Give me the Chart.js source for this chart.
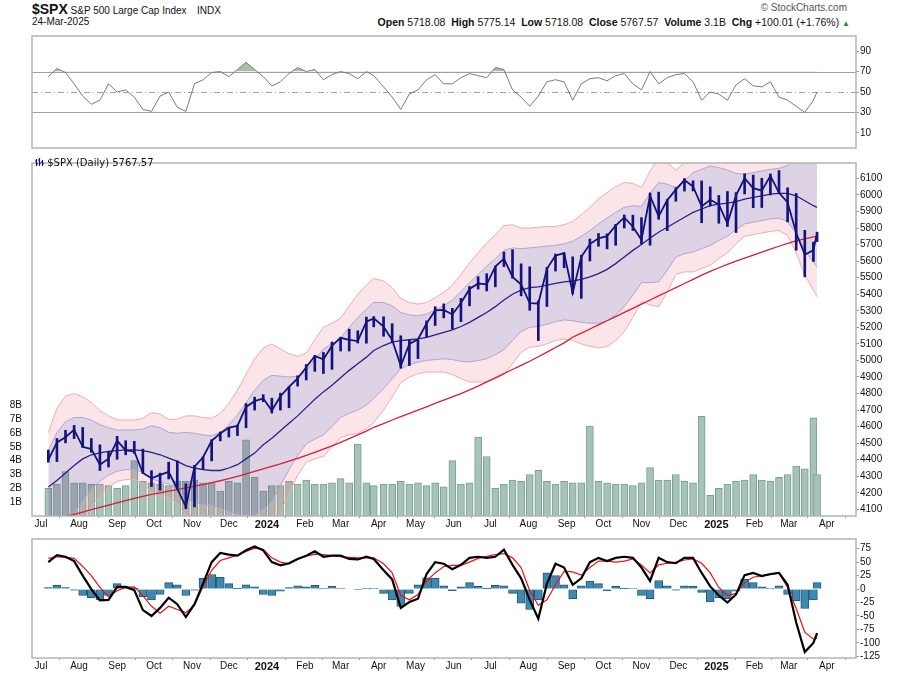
<!DOCTYPE html>
<html>
<head>
<meta charset="utf-8">
<script src="https://cdn.jsdelivr.net/npm/chart.js@4.4.1/dist/chart.umd.min.js"></script>
<style>
  body { margin: 0; background: #fff; width: 900px; height: 673px; position: relative; overflow: hidden;
         font-family: "Liberation Sans", Arial, sans-serif; color: #111; }
  canvas { position: absolute; left: 0; }
  .t { position: absolute; white-space: nowrap; z-index: 5; }
  .t b { font-weight: bold; }
</style>
</head>
<body>
<div class="t" style="left:32px;top:1px;font-size:10px;"><b style="font-size:14px">$SPX</b> S&amp;P 500 Large Cap Index</div>
<div class="t" style="left:197px;top:5px;font-size:10px;">INDX</div>
<div class="t" style="left:32px;top:16px;font-size:10px;">24-Mar-2025</div>
<div class="t" style="right:53px;top:2px;font-size:10px;color:#555;">&copy; StockCharts.com</div>
<div class="t" style="right:50px;top:16px;font-size:10.5px;">
  <b>Open</b> 5718.08&nbsp; <b>High</b> 5775.14&nbsp; <b>Low</b> 5718.08&nbsp; <b>Close</b> 5767.57&nbsp;
  <b>Volume</b> 3.1B&nbsp; <b>Chg</b> +100.01 (+1.76%) <span style="color:#2e8b2e;font-size:8px;">&#9650;</span>
</div>
<div class="t" style="left:35px;top:157px;font:10px 'DejaVu Sans';">
  <svg width="9" height="9" style="vertical-align:-1px"><path d="M1.5 1v7M4.5 0v8M7.5 2v6M0 3h1.5M1.5 6h1.5M3 2h1.5M4.5 5h1.5M6 4h1.5M7.5 6h1.5" stroke="#14127c" stroke-width="1.2" fill="none"/></svg>
  $SPX (Daily) 5767.57
</div>

<canvas id="rsiChart" width="900" height="126" style="top:29px"></canvas>
<canvas id="priceChart" width="900" height="378" style="top:155px"></canvas>
<canvas id="oscChart" width="900" height="141" style="top:532px"></canvas>

<script>
// weekly points
const dates = [
  '2023-07-07','2023-07-14','2023-07-21','2023-07-28','2023-08-04','2023-08-11','2023-08-18','2023-08-25',
  '2023-09-01','2023-09-08','2023-09-15','2023-09-22','2023-09-29','2023-10-06','2023-10-13','2023-10-20',
  '2023-10-27','2023-11-03','2023-11-10','2023-11-17','2023-11-24','2023-12-01','2023-12-08','2023-12-15',
  '2023-12-22','2023-12-29',
  '2024-01-05','2024-01-12','2024-01-19','2024-01-26','2024-02-02','2024-02-09','2024-02-16','2024-02-23',
  '2024-03-01','2024-03-08','2024-03-15','2024-03-22','2024-03-28','2024-04-05','2024-04-12','2024-04-19',
  '2024-04-26','2024-05-03','2024-05-10','2024-05-17','2024-05-24','2024-05-31','2024-06-07','2024-06-14',
  '2024-06-21','2024-06-28','2024-07-05','2024-07-12','2024-07-19','2024-07-26','2024-08-02','2024-08-09',
  '2024-08-16','2024-08-23','2024-08-30','2024-09-06','2024-09-13','2024-09-20','2024-09-27','2024-10-04',
  '2024-10-11','2024-10-18','2024-10-25','2024-11-01','2024-11-08','2024-11-15','2024-11-22','2024-11-29',
  '2024-12-06','2024-12-13','2024-12-20','2024-12-27',
  '2025-01-03','2025-01-10','2025-01-17','2025-01-24','2025-01-31','2025-02-07','2025-02-14','2025-02-21',
  '2025-02-28','2025-03-07','2025-03-14','2025-03-21','2025-03-24'
];

const priceHigh = [
  4458,4528,4578,4607,4595,4528,4490,4450,4541,4515,4511,4464,4334,4319,4385,4393,4255,4366,4418,4521,4568,4595,4609,4739,4778,4793,
  4772,4802,4842,4907,4975,5030,5048,5111,5140,5189,5179,5262,5265,5264,5222,5149,5123,5123,5239,5325,5342,5315,5375,5447,5506,5524,
  5570,5655,5669,5584,5566,5360,5563,5643,5651,5626,5636,5733,5767,5765,5822,5879,5878,5863,6012,6017,5972,6044,6099,6085,6085,6049,
  5997,6021,6014,6128,6120,6101,6127,6147,6043,6009,5786,5715,5775
];
const priceLow = [
  4385,4389,4502,4528,4474,4445,4335,4356,4403,4430,4439,4317,4238,4216,4284,4223,4104,4115,4341,4393,4514,4537,4546,4593,4700,4751,
  4682,4700,4714,4845,4882,4934,4921,4946,5057,5057,5105,5104,5203,5146,5107,4953,4969,5011,5142,5211,5257,5191,5234,5330,5431,5420,
  5445,5567,5497,5390,5303,5120,5326,5540,5560,5402,5375,5601,5690,5674,5696,5800,5785,5703,5696,5853,5784,5962,6023,6024,5832,5933,
  5829,5809,5773,6006,5923,5924,6000,6008,5837,5666,5505,5598,5718
];
const priceClose = [
  4399,4505,4536,4582,4478,4464,4370,4406,4515,4457,4450,4320,4288,4308,4327,4224,4117,4358,4415,4514,4559,4594,4604,4719,4754,4770,
  4697,4784,4840,4891,4959,5027,5006,5089,5137,5124,5117,5234,5254,5204,5123,4967,5100,5128,5223,5303,5305,5278,5347,5432,5465,5460,
  5567,5615,5505,5459,5346,5344,5554,5634,5648,5408,5626,5703,5738,5751,5815,5864,5808,5729,5995,5870,5969,6032,6090,6051,5931,5971,
  5942,5827,5997,6101,6041,6026,6115,6013,5955,5770,5639,5667,5768
];
const volumeB = [
  2.0,2.3,3.2,2.4,2.4,2.3,2.3,2.2,2.0,2.2,4.0,2.5,2.4,2.3,2.2,2.5,2.5,2.6,2.4,2.4,1.8,2.5,2.4,5.5,2.8,1.8,
  2.2,2.2,2.5,2.3,2.6,2.3,2.3,2.4,2.7,2.4,5.2,2.4,2.2,2.3,2.3,2.5,2.3,2.4,2.2,2.4,2.1,4.0,2.3,2.4,5.7,4.3,
  2.0,2.3,2.6,2.5,3.0,3.3,2.5,2.3,2.5,2.4,2.4,6.5,2.5,2.4,2.3,2.3,2.2,2.4,3.5,2.6,2.6,3.0,2.5,2.4,7.2,1.5,
  2.0,2.3,2.5,2.6,3.0,2.6,2.5,2.8,3.0,3.6,3.4,7.1,3.0
];
const sma50 = [
  4235,4275,4320,4365,4405,4430,4442,4450,4455,4460,4460,4455,4445,4430,4410,4390,4365,4350,4340,4335,4335,4350,4370,4405,4440,4490,
  4530,4575,4620,4665,4715,4765,4810,4850,4895,4940,4980,5020,5060,5090,5110,5120,5125,5130,5140,5155,5170,5185,5205,5230,5260,5290,
  5325,5365,5400,5425,5440,5445,5455,5465,5475,5480,5490,5505,5525,5550,5585,5625,5665,5700,5740,5775,5805,5835,5865,5895,5915,5935,
  5945,5950,5960,5975,5985,5995,6005,6010,6010,5995,5965,5935,5925
];
const sma200 = [
  4032,4044,4057,4070,4084,4098,4112,4126,4140,4153,4166,4178,4190,4200,4210,4220,4230,4240,4250,4261,4273,4286,4300,4315,4330,4345,
  4360,4375,4391,4408,4426,4445,4464,4484,4505,4527,4550,4573,4596,4618,4640,4660,4680,4700,4720,4740,4760,4780,4800,4822,4845,4870,
  4895,4920,4945,4970,4995,5022,5050,5078,5106,5140,5165,5190,5215,5240,5265,5290,5315,5340,5365,5390,5415,5440,5465,5490,5515,5538,
  5560,5580,5600,5618,5636,5654,5672,5690,5707,5722,5735,5746,5750
];
const bbUpper = [
  4455,4565,4630,4655,4655,4640,4612,4594,4579,4580,4580,4585,4605,4594,4566,4560,4565,4560,4550,4545,4565,4610,4670,4745,4820,4880,
  4910,4905,4900,4905,4935,5005,5070,5100,5135,5200,5260,5310,5350,5350,5330,5290,5275,5270,5280,5305,5330,5365,5415,5470,5520,5570,
  5615,5665,5680,5675,5680,5685,5691,5695,5705,5720,5750,5785,5825,5860,5895,5925,5935,5930,6010,6075,6065,6045,6085,6135,6155,6175,
  6165,6150,6130,6125,6135,6145,6155,6160,6180,6225,6265,6275,6285
];
const bbLower = [
  4015,3985,4010,4075,4155,4220,4272,4306,4331,4340,4340,4325,4285,4266,4254,4220,4165,4140,4130,4125,4105,4090,4070,4065,4060,4100,
  4150,4245,4340,4425,4495,4525,4550,4600,4655,4680,4700,4730,4770,4830,4890,4950,4975,4990,5000,5005,5010,5005,4995,4990,5000,5010,
  5035,5065,5120,5175,5200,5205,5219,5235,5245,5240,5230,5225,5225,5240,5275,5325,5395,5470,5470,5475,5545,5625,5645,5655,5675,5695,
  5725,5750,5790,5825,5835,5845,5855,5860,5840,5765,5665,5595,5565
];
const outerUpper = [
  4565,4710,4785,4800,4780,4745,4697,4666,4641,4640,4640,4650,4685,4676,4644,4645,4665,4665,4655,4650,4680,4740,4820,4915,5010,5075,
  5100,5070,5040,5025,5045,5125,5200,5225,5255,5330,5400,5455,5495,5480,5440,5375,5350,5340,5350,5380,5410,5455,5520,5590,5650,5710,
  5760,5815,5820,5800,5800,5805,5809,5810,5820,5840,5880,5925,5975,6015,6050,6075,6070,6045,6145,6225,6195,6150,6195,6255,6275,6295,
  6275,6250,6215,6200,6210,6220,6230,6235,6265,6340,6415,6445,6465
];
const outerLower = [
  3905,3840,3855,3930,4030,4115,4187,4234,4269,4280,4280,4260,4205,4184,4176,4135,4065,4035,4025,4020,3990,3960,3920,3895,3870,3905,
  3960,4080,4200,4305,4385,4405,4420,4475,4535,4550,4560,4585,4625,4700,4780,4865,4900,4920,4930,4930,4930,4915,4890,4870,4870,4870,
  4890,4915,4980,5050,5080,5085,5101,5120,5130,5120,5100,5085,5075,5085,5120,5175,5260,5355,5335,5325,5415,5520,5535,5535,5555,5575,
  5615,5650,5705,5750,5760,5770,5780,5785,5755,5650,5515,5425,5385
];
const rsi = [
  65,73,69,58,46,38,42,58,50,52,45,33,31,46,50,35,31,58,62,69,70,65,72,79,72,65,
  56,60,68,74,70,72,62,67,70,68,63,70,66,55,45,33,48,52,62,67,58,58,64,68,66,64,
  74,72,52,45,36,46,60,62,60,42,58,63,64,61,66,68,58,52,70,58,64,67,68,60,42,50,
  48,42,57,63,56,55,60,45,42,36,30,42,50
];
const oscLine = [
  50,63,60,52,25,0,-21,-20,4,4,-2,-39,-50,-35,-16,-28,-52,-28,10,50,67,64,62,72,79,72,
  50,44,48,56,62,70,60,62,62,56,55,60,56,35,18,-35,-24,-18,28,50,47,37,45,58,60,58,
  60,73,45,20,-20,-55,10,47,40,8,20,50,58,52,58,60,58,40,15,58,50,48,58,58,30,5,
  -12,-25,-10,26,30,24,28,30,8,-62,-117,-100,-82
];
const oscSignal = [
  57,60,59,57,42,25,3,-14,-3,3,4,-12,-32,-45,-32,-38,-44,-30,5,35,53,58,63,70,76,74,
  58,50,47,56,61,65,64,62,60,59,58,58,58,47,30,-12,-20,-10,15,30,42,44,44,50,57,61,
  64,66,58,40,-3,-30,-20,8,33,32,26,40,52,52,50,52,56,45,30,45,48,50,54,56,48,30,
  3,-12,-8,12,22,25,27,30,3,-36,-80,-93,-91
];
const oscHist = [
  3,7,3,-2,-12,-16,-20,-12,10,4,2,-14,-20,-10,12,8,-12,-2,20,27,22,10,2,8,4,-10,
  -12,-4,3,6,4,7,1,5,1,0,-1,1,1,-8,-20,-32,-8,8,21,20,6,-3,4,12,5,2,
  7,6,-8,-26,-38,-20,30,25,8,-18,6,15,10,-3,5,2,1,-12,-18,16,6,-2,6,5,-6,-24,
  -16,-18,-4,18,12,4,1,6,-10,-22,-36,-20,12
];

const monthStarts = [
  '2023-07-01','2023-08-01','2023-09-01','2023-10-01','2023-11-01','2023-12-01','2024-01-01','2024-02-01',
  '2024-03-01','2024-04-01','2024-05-01','2024-06-01','2024-07-01','2024-08-01','2024-09-01','2024-10-01',
  '2024-11-01','2024-12-01','2025-01-01','2025-02-01','2025-03-01','2025-04-01'
];
const monthLabels = ['Jul','Aug','Sep','Oct','Nov','Dec','2024','Feb','Mar','Apr','May','Jun',
  'Jul','Aug','Sep','Oct','Nov','Dec','2025','Feb','Mar','Apr'];
const priceTicks = [4100,4200,4300,4400,4500,4600,4700,4800,4900,5000,5100,5200,5300,5400,5500,5600,5700,5800,5900,6000,6100];
const volumeTicks = [1,2,3,4,5,6,7,8];
const rsiTicks = [10,30,50,70,90];
const oscTicks = [75,50,25,0,-25,-50,-75,-100,-125];

const DAY0 = Date.UTC(2023, 6, 1);
function dayNum(s) {
  const [y, m, d] = s.split('-').map(Number);
  return (Date.UTC(y, m - 1, d) - DAY0) / 864e5;
}
const xs = dates.map(dayNum);
const pts = arr => arr.map((v, i) => ({ x: xs[i], y: v }));

Chart.defaults.font.family = '"Liberation Sans", Arial, sans-serif';
Chart.defaults.font.size = 10;
Chart.defaults.color = '#111';

// grey box round each panel
const panelFrame = {
  id: 'panelFrame',
  afterDraw(chart) {
    const { ctx, chartArea: a } = chart;
    ctx.save();
    ctx.strokeStyle = '#b4b4b4';
    ctx.lineWidth = 1.5;
    ctx.strokeRect(a.left, a.top, a.right - a.left, a.bottom - a.top);
    ctx.restore();
  }
};

const rsiLines = {
  id: 'rsiLines',
  beforeDatasetsDraw(chart) {
    const { ctx, chartArea: a, scales: { y } } = chart;
    ctx.save();
    ctx.strokeStyle = '#a0a0a0';
    ctx.lineWidth = 1;
    [[70, []], [30, []], [50, [6, 3, 1, 3]]].forEach(([v, dash]) => {
      const py = Math.round(y.getPixelForValue(v)) + 0.5;
      ctx.setLineDash(dash);
      ctx.beginPath();
      ctx.moveTo(a.left, py);
      ctx.lineTo(a.right, py);
      ctx.stroke();
    });
    ctx.restore();
  }
};

function timeAxis(show, height) {
  return {
    type: 'linear', min: -7.3, max: 663.7, offset: false, display: show,
    afterBuildTicks: s => { s.ticks = monthStarts.map(d => ({ value: dayNum(d) })); },
    afterFit: s => { s.height = height; },
    grid: { drawOnChartArea: false, tickLength: 2, color: '#999' },
    border: { display: false },
    ticks: {
      autoSkip: false, maxRotation: 0, padding: 0, color: '#111',
      callback: (v, i) => monthLabels[i],
      font: c => /^\d{4}$/.test(monthLabels[c.index]) ? { size: 11, weight: 'bold' } : { size: 10 }
    }
  };
}

function rightAxis(min, max, ticks) {
  return {
    position: 'right', min, max,
    afterBuildTicks: s => { s.ticks = ticks.map(v => ({ value: v })); },
    afterFit: s => { s.width = 44; },
    grid: { drawOnChartArea: false, tickLength: 3, color: '#999' },
    border: { display: false },
    ticks: { color: '#111', padding: 1, autoSkip: false, callback: v => String(v) }
  };
}

const common = {
  responsive: false, animation: false, devicePixelRatio: 1,
  plugins: { legend: { display: false }, tooltip: { enabled: false } },
  elements: { point: { radius: 0 }, line: { tension: 0 } }
};

// RSI panel
new Chart(document.getElementById('rsiChart'), {
  type: 'line',
  data: {
    datasets: [{
      data: pts(rsi), borderColor: '#7a7a7a', borderWidth: 1,
      fill: { target: { value: 70 }, above: 'rgba(95,140,95,0.55)', below: 'rgba(0,0,0,0)' }
    }]
  },
  options: {
    ...common,
    layout: { padding: { left: 32 } },
    scales: { x: timeAxis(false, 0), y: rightAxis(-4.8, 104.8, rsiTicks) }
  },
  plugins: [rsiLines, panelFrame]
});

// price panel
new Chart(document.getElementById('priceChart'), {
  type: 'bar',
  data: {
    datasets: [
      { type: 'bar', yAxisID: 'yv', data: pts(volumeB), backgroundColor: '#a5c3b7', borderColor: '#7aa090',
        borderWidth: 1, barThickness: 7, grouped: false, order: 10 },
      { type: 'line', data: pts(outerUpper), borderColor: '#f2a9b2', borderWidth: 1, fill: 2,
        backgroundColor: 'rgba(232,110,130,0.18)', order: 9 },
      { type: 'line', data: pts(bbUpper), borderColor: '#b3a3cf', borderWidth: 1, fill: 3,
        backgroundColor: 'rgba(115,70,145,0.24)', order: 8 },
      { type: 'line', data: pts(bbLower), borderColor: '#b3a3cf', borderWidth: 1, fill: 4,
        backgroundColor: 'rgba(232,110,130,0.18)', order: 7 },
      { type: 'line', data: pts(outerLower), borderColor: '#f2a9b2', borderWidth: 1, fill: false, order: 6 },
      { type: 'line', data: pts(sma200), borderColor: '#d81e36', borderWidth: 1.3, fill: false, order: 4 },
      { type: 'line', data: pts(sma50), borderColor: '#2c1f80', borderWidth: 1.3, fill: false, order: 3 },
      { type: 'bar', data: priceLow.map((v, i) => ({ x: xs[i], y: [v, priceHigh[i]] })),
        backgroundColor: '#14127c', barThickness: 2, grouped: false, order: 2 },
      { type: 'line', data: pts(priceClose), borderColor: '#14127c', borderWidth: 1.8, fill: false, order: 1 }
    ]
  },
  options: {
    ...common,
    scales: {
      x: timeAxis(true, 17),
      y: rightAxis(4060, 6193, priceTicks),
      yv: {
        position: 'left', min: 0, max: 25.5,
        afterBuildTicks: s => { s.ticks = volumeTicks.map(v => ({ value: v })); },
        afterFit: s => { s.width = 32; },
        grid: { display: false }, border: { display: false },
        ticks: { color: '#111', padding: 2, autoSkip: false, callback: v => v + 'B' }
      }
    }
  },
  plugins: [panelFrame]
});

// oscillator panel
new Chart(document.getElementById('oscChart'), {
  type: 'bar',
  data: {
    datasets: [
      { type: 'bar', data: pts(oscHist), backgroundColor: '#3f89b0', borderColor: '#215a78', borderWidth: 1,
        barThickness: 8, grouped: false, order: 3 },
      { type: 'line', data: pts(oscSignal), borderColor: '#ee1111', borderWidth: 1.2, fill: false, order: 2 },
      { type: 'line', data: pts(oscLine), borderColor: '#000', borderWidth: 2.2, fill: false, order: 1 }
    ]
  },
  options: {
    ...common,
    layout: { padding: { left: 32 } },
    scales: { x: timeAxis(true, 15), y: rightAxis(-128, 93, oscTicks) }
  },
  plugins: [panelFrame]
});
</script>
</body>
</html>
